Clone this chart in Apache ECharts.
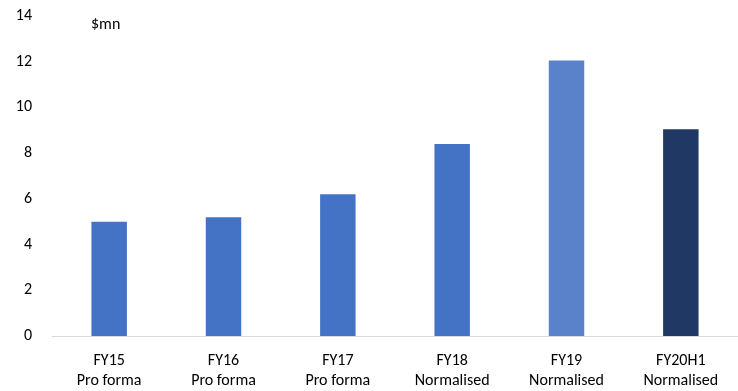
<!DOCTYPE html>
<html>
<head>
<meta charset="utf-8">
<script src="https://cdn.jsdelivr.net/npm/echarts@6/dist/echarts.min.js"></script>
<style>
html,body{margin:0;padding:0;background:#fff;}
#chart{width:738px;height:391px;}
</style>
</head>
<body>
<div id="chart"></div>
<script>
// 数据
var categories = ['FY15\nPro forma', 'FY16\nPro forma', 'FY17\nPro forma', 'FY18\nNormalised', 'FY19\nNormalised', 'FY20H1\nNormalised'];
var values = [5.0, 5.2, 6.2, 8.4, 12.05, 9.05];
var barColors = ['#4472C4', '#4472C4', '#4472C4', '#4472C4', '#5A82CA', '#203864'];

var font = 'Calibri, Carlito, "Open Sans", sans-serif';

var mycharts = echarts.init(document.getElementById('chart'));
var options = {
    animation: false,
    title: {
        text: '$mn',
        left: 86,
        top: 12,
        textStyle: { fontSize: 16, fontWeight: 'normal', color: '#000', fontFamily: font }
    },
    grid: {
        left: 52,
        top: 16,
        width: 696,
        bottom: 53,
        containLabel: false
    },
    xAxis: {
        type: 'category',
        data: categories,
        axisLine: { show: true, lineStyle: { color: '#d9d9d9', width: 1 } },
        axisTick: { show: false },
        axisLabel: {
            interval: 0,
            margin: 15,
            color: '#000',
            fontSize: 16,
            lineHeight: 20,
            fontFamily: font
        }
    },
    yAxis: {
        type: 'value',
        min: 0,
        max: 14,
        interval: 2,
        splitLine: { show: false },
        axisLine: { show: false },
        axisTick: { show: false },
        axisLabel: { margin: 20, color: '#000', fontSize: 16, fontFamily: font }
    },
    series: [
        {
            type: 'bar',
            barWidth: '31%',
            data: values.map(function (v, i) {
                return { value: v, itemStyle: { color: barColors[i] } };
            })
        }
    ]
};
mycharts.setOption(options, true);
</script>
</body>
</html>
